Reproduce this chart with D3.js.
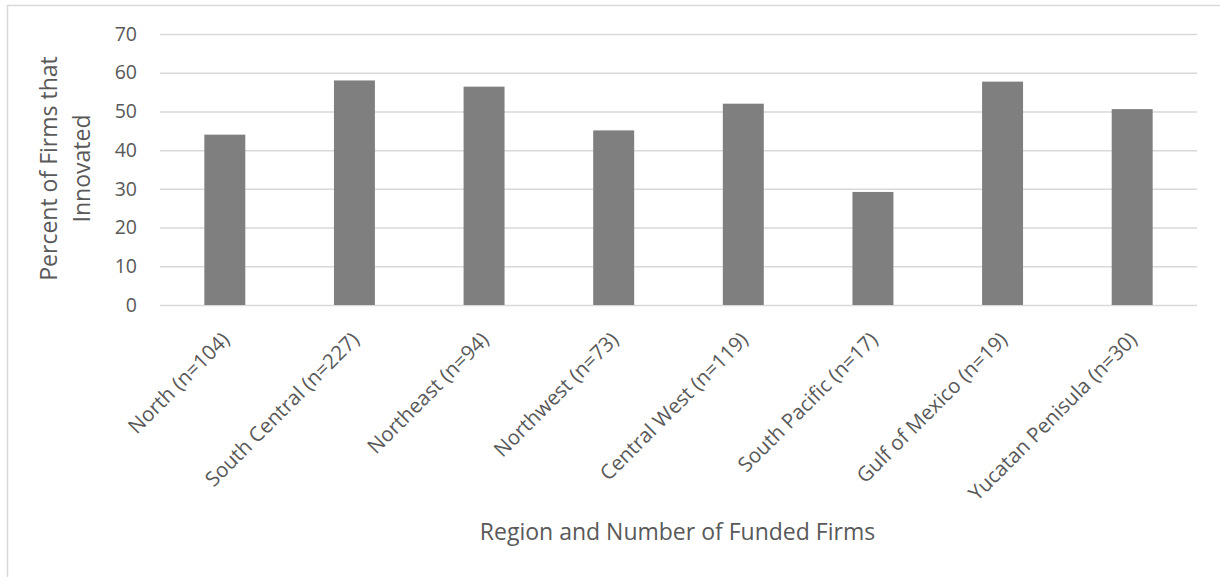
<!DOCTYPE html>
<html>
<head>
<meta charset="utf-8">
<script src="https://cdn.jsdelivr.net/npm/d3@7"></script>
<style>
  body { margin: 0; background: #fff; }
  svg text { font-family: "Open Sans", sans-serif; fill: #595959; }
</style>
</head>
<body>
<svg id="chart" width="1220" height="577"></svg>
<script>
// data
const regions = ['North (n=104)', 'South Central (n=227)', 'Northeast (n=94)', 'Northwest (n=73)',
  'Central West (n=119)', 'South Pacific (n=17)', 'Gulf of Mexico (n=19)', 'Yucatan Penisula (n=30)'];
const percentInnovated = [44.0, 58.0, 56.4, 45.1, 52.0, 29.2, 57.7, 50.6];
const yTicks = [0, 10, 20, 30, 40, 50, 60, 70];

const svg = d3.select('#chart');
const margin = {top: 34, right: 23, bottom: 272, left: 160};
const width = 1220 - margin.left - margin.right;
const height = 577 - margin.top - margin.bottom;

// chart frame
svg.append('rect')
  .attr('x', 7.5).attr('y', 5.5)
  .attr('width', 1230).attr('height', 600)
  .attr('fill', 'none')
  .attr('stroke', '#d9d9d9')
  .attr('stroke-width', 1.5);

const g = svg.append('g').attr('transform', 'translate(' + margin.left + ',' + margin.top + ')');

const x = d3.scaleBand().domain(regions).range([0, width]).paddingInner(0.684).paddingOuter(0.342);
const y = d3.scaleLinear().domain([0, 70]).range([height, 0]);

// gridlines + y labels
const yAxis = g.append('g')
  .call(d3.axisLeft(y).tickValues(yTicks).tickSize(-width).tickPadding(23).tickFormat(d3.format('d')));
yAxis.select('.domain').remove();
yAxis.selectAll('.tick line').attr('stroke', '#d9d9d9').attr('stroke-width', 1.5);
yAxis.selectAll('.tick text').style('font-size', '19.5px').attr('fill', '#595959');

// bars
g.selectAll('.bar')
  .data(percentInnovated)
  .enter().append('rect')
  .attr('class', 'bar')
  .attr('x', (d, i) => x(regions[i]))
  .attr('y', d => y(d))
  .attr('width', x.bandwidth())
  .attr('height', d => height - y(d))
  .attr('fill', '#7f7f7f');

// x labels, rotated
const xAxis = g.append('g')
  .attr('transform', 'translate(0,' + height + ')')
  .call(d3.axisBottom(x).tickSize(0).tickPadding(0));
xAxis.select('.domain').remove();
xAxis.selectAll('.tick text')
  .style('font-size', '20.5px')
  .attr('fill', '#595959')
  .attr('text-anchor', 'end')
  .attr('dy', 0)
  .attr('y', 0)
  .attr('transform', 'translate(6,36) rotate(-45)');

// axis titles
g.append('text')
  .attr('x', width / 2 - 1)
  .attr('y', height + 235)
  .style('text-anchor', 'middle')
  .style('font-size', '23px')
  .text('Region and Number of Funded Firms');

const yTitle = g.append('text')
  .attr('transform', 'rotate(-90)')
  .style('text-anchor', 'middle')
  .style('font-size', '23px');
yTitle.append('tspan').attr('x', -134.5).attr('y', -103).text('Percent of Firms that');
yTitle.append('tspan').attr('x', -134.5).attr('y', -70).text('Innovated');
</script>
</body>
</html>
